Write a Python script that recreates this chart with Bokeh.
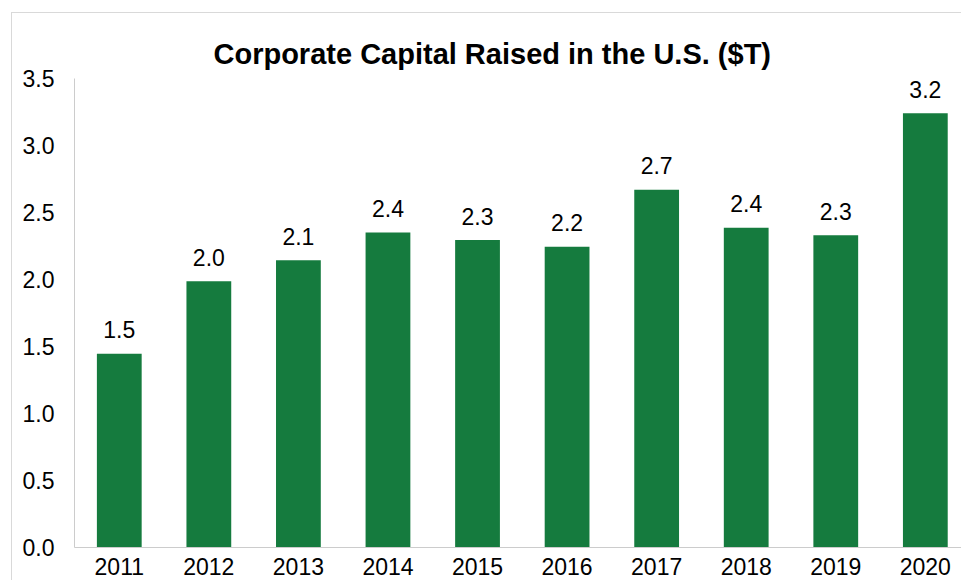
from bokeh.plotting import figure
from bokeh.models import ColumnDataSource, Range1d, FixedTicker, NumeralTickFormatter
from bokeh.core.properties import value
from bokeh.embed import file_html
from bokeh.resources import INLINE

years = ["2011", "2012", "2013", "2014", "2015", "2016", "2017", "2018", "2019", "2020"]
capital = [1.446, 1.987, 2.144, 2.351, 2.294, 2.244, 2.670, 2.386, 2.331, 3.241]
labels = ["1.5", "2.0", "2.1", "2.4", "2.3", "2.2", "2.7", "2.4", "2.3", "3.2"]
y_ticks = [0.0, 0.5, 1.0, 1.5, 2.0, 2.5, 3.0, 3.5]

idx = list(range(len(years)))
src = ColumnDataSource(dict(x=idx, top=capital, label=labels))

FONT = "Liberation Sans"

p = figure(width=950, height=568, output_backend="svg", toolbar_location=None,
           x_range=Range1d(-0.5, 9.415), y_range=Range1d(0, 3.5),
           min_border_left=62, min_border_right=0, min_border_top=65, min_border_bottom=34,
           title="Corporate Capital Raised in the U.S. ($T)")
p.styles = {"margin-left": "11px", "margin-top": "12px",
            "border-left": "1px solid #d9d9d9", "border-top": "1px solid #d9d9d9"}

p.title.text_font = FONT
p.title.text_font_size = "29px"
p.title.text_font_style = "bold"
p.title.text_color = "black"
p.title.align = "left"
p.title.offset = 139
p.title.standoff = 18

p.outline_line_color = None
p.grid.grid_line_color = None

p.vbar(x="x", top="top", width=0.5, bottom=0, source=src, fill_color="#157B3E", line_color=None)
p.text(x="x", y="top", text="label", source=src, text_align="center", text_baseline="alphabetic",
       y_offset=-24, text_font=value(FONT), text_font_size="23px", text_color="black")

p.yaxis.ticker = FixedTicker(ticks=y_ticks)
p.yaxis.formatter = NumeralTickFormatter(format="0.0")
p.xaxis.ticker = FixedTicker(ticks=idx)
p.xaxis.major_label_overrides = {i: y for i, y in zip(idx, years)}

for ax in (p.xaxis, p.yaxis):
    ax.major_tick_line_color = None
    ax.minor_tick_line_color = None
    ax.major_tick_out = 0
    ax.major_tick_in = 0
    ax.axis_line_color = "#cccccc"
    ax.axis_line_width = 1
    ax.major_label_text_font = FONT
    ax.major_label_text_font_size = "23px"
    ax.major_label_text_color = "black"
p.yaxis.major_label_standoff = 20
p.xaxis.major_label_standoff = 10

open("out.html", "w").write(file_html(p, INLINE))
